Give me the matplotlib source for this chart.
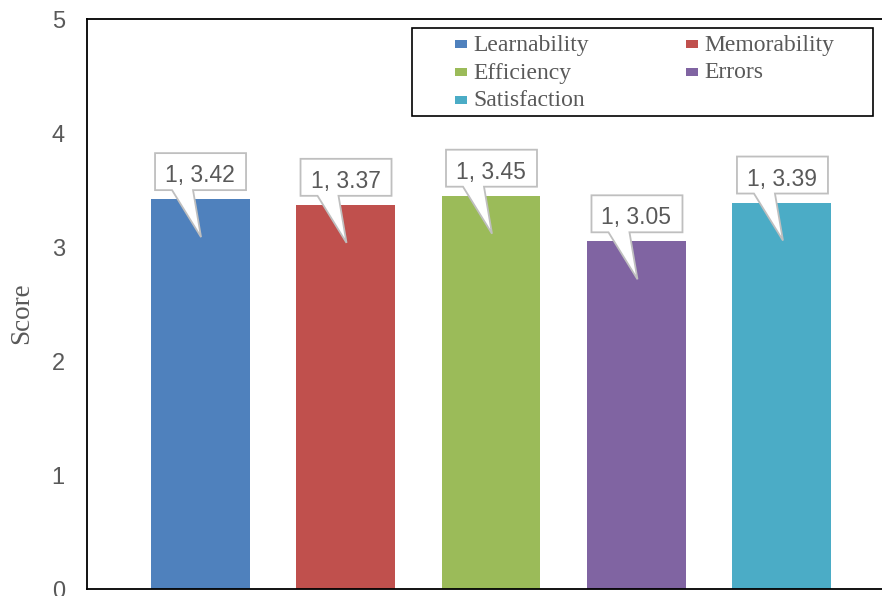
import matplotlib
matplotlib.use("Agg")
import matplotlib.pyplot as plt
import matplotlib.transforms as mtransforms
from matplotlib.patches import Polygon, Rectangle

# usability scores per criterion
criteria = ["Learnability", "Memorability", "Efficiency", "Errors", "Satisfaction"]
scores = [3.42, 3.37, 3.45, 3.05, 3.39]
colors = ["#4F81BD", "#C0504D", "#9BBB59", "#8064A2", "#4BACC6"]
yticks = [0, 1, 2, 3, 4, 5]

W, H = 882, 596
TXT = "#595959"

fig = plt.figure(figsize=(W / 100, H / 100), dpi=100)
ax = fig.add_axes([87 / W, 7 / H, 808 / W, 570 / H])

for i, (name, val, col) in enumerate(zip(criteria, scores, colors)):
    ax.bar(i, val, width=0.68, color=col, label=name, zorder=2)

ax.set_xlim(-0.777, 4.777)
ax.set_ylim(0, 5)
ax.set_xticks([])
ax.set_yticks(yticks)
ax.tick_params(axis="y", length=0, pad=16, labelsize=17, labelcolor=TXT)
for lab in ax.get_yticklabels():
    lab.set_fontfamily("Liberation Sans")
for side in ["left", "top", "bottom"]:
    ax.spines[side].set_color("black")
    ax.spines[side].set_linewidth(1.3)
ax.spines["right"].set_visible(False)

# callout boxes with a tail pointing into each bar (offsets in pixels)
box = [(-45, 9), (-28, 9), (1, -38), (-7, 9), (46, 9), (46, 46), (-45, 46)]
for i, val in enumerate(scores):
    trans = mtransforms.IdentityTransform() + mtransforms.ScaledTranslation(i, val, ax.transData)
    ax.add_patch(Polygon(box, closed=True, transform=trans, facecolor="white",
                         edgecolor="#BFBFBF", linewidth=1.3, zorder=3, clip_on=False))
    ax.text(0, 26, f"1, {val:.2f}", transform=trans, ha="center", va="center_baseline",
            fontsize=16.5, color=TXT, family="Liberation Sans", zorder=4)

# legend drawn in figure pixel coordinates
def fx(px):
    return px / W

def fy(py):
    return 1 - py / H

fig.patches.append(Rectangle((fx(412), fy(116)), fx(873) - fx(412), fy(28) - fy(116),
                             transform=fig.transFigure, facecolor="white",
                             edgecolor="black", linewidth=1.2, zorder=5))
col_x = [455, 686]
row_y = [43.5, 71.5, 99.5]
for k, (name, col) in enumerate(zip(criteria, colors)):
    x0 = col_x[k % 2]
    y0 = row_y[k // 2]
    fig.patches.append(Rectangle((fx(x0), fy(y0 + 4)), 11.5 / W, 8 / H,
                                 transform=fig.transFigure, facecolor=col,
                                 edgecolor="none", zorder=6))
    fig.text(fx(x0 + 18), fy(y0 + 1.5), name, ha="left", va="center", fontsize=17,
             color=TXT, family="Liberation Serif", zorder=7)

fig.text(fx(22), fy(313), "Score", rotation=90, ha="center", va="center",
         fontsize=19.5, color=TXT, family="Liberation Serif")

fig.savefig("out.png", dpi=100)
